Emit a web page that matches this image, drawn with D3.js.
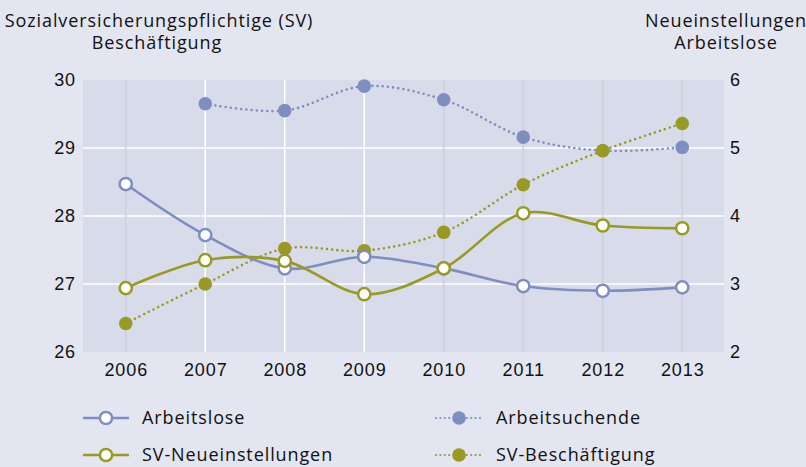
<!DOCTYPE html>
<html>
<head>
<meta charset="utf-8">
<script src="https://cdn.jsdelivr.net/npm/d3@7"></script>
<style>
  body { margin: 0; background: #e3e5f0; }
  svg { display: block; font-family: "Open Sans", "Noto Sans", sans-serif; }
  text { letter-spacing: 0.9px; }
</style>
</head>
<body>
<svg id="chart" width="806" height="467"></svg>
<script>
const years = [2006, 2007, 2008, 2009, 2010, 2011, 2012, 2013]
const leftTicks = [26, 27, 28, 29, 30]
const rightTicks = [2, 3, 4, 5, 6]

// left axis (Mio.)
const svBeschaeftigung = [26.42, 27.0, 27.52, 27.49, 27.76, 28.46, 28.96, 29.36]
// right axis (Mio.)
const arbeitsuchende = [null, 5.65, 5.55, 5.91, 5.71, 5.16, 4.96, 5.01]
const arbeitslose = [4.47, 3.72, 3.23, 3.40, 3.23, 2.97, 2.90, 2.95]
const svNeueinstellungen = [2.94, 3.35, 3.34, 2.85, 3.23, 4.04, 3.86, 3.82]

const grayYears = [2006, 2010, 2011, 2012, 2013]

const blue = '#7e8ec1'
const olive = '#999a22'
const ink = '#111'

const svg = d3.select('#chart')
const plot = { left: 83, right: 724, top: 80, bottom: 352 }

const x = d3.scalePoint().domain(years).range([86, 722]).padding(0.5)
const yL = d3.scaleLinear().domain([26, 30]).range([plot.bottom, plot.top])
const yR = d3.scaleLinear().domain([2, 6]).range([plot.bottom, plot.top])

svg.append('rect')
    .attr('x', plot.left).attr('y', plot.top)
    .attr('width', plot.right - plot.left).attr('height', plot.bottom - plot.top)
    .attr('fill', '#d8dbea')

// grid
svg.selectAll('line.hgrid').data(leftTicks.slice(1, -1)).enter()
    .append('line')
    .attr('x1', plot.left).attr('x2', plot.right)
    .attr('y1', d => yL(d)).attr('y2', d => yL(d))
    .attr('stroke', '#fff').attr('stroke-width', 1.5)

svg.selectAll('line.vgrid').data(years).enter()
    .append('line')
    .attr('x1', d => x(d)).attr('x2', d => x(d))
    .attr('y1', plot.top).attr('y2', plot.bottom)
    .attr('stroke', d => grayYears.includes(d) ? '#cdcfd9' : '#fff')
    .attr('stroke-width', 1.5)

// axes
const axL = svg.append('g').attr('transform', `translate(${plot.left},0)`)
    .call(d3.axisLeft(yL).tickValues(leftTicks).tickFormat(d3.format('d')).tickSize(0).tickPadding(7))
const axR = svg.append('g').attr('transform', `translate(${plot.right},0)`)
    .call(d3.axisRight(yR).tickValues(rightTicks).tickFormat(d3.format('d')).tickSize(0).tickPadding(6))
const axB = svg.append('g').attr('transform', `translate(0,${plot.bottom})`)
    .call(d3.axisBottom(x).tickSize(0).tickPadding(11))
for (let ax of [axL, axR, axB]) {
    ax.select('.domain').remove()
    ax.selectAll('text').attr('font-size', '18px').attr('font-family', null).attr('fill', ink)
}

// titles
const titles = [
    { x: 159, y: 27, t: 'Sozialversicherungspflichtige (SV)' },
    { x: 157, y: 49, t: 'Beschäftigung' },
    { x: 726, y: 27, t: 'Neueinstellungen' },
    { x: 726, y: 49, t: 'Arbeitslose' }
]
svg.selectAll('text.title').data(titles).enter()
    .append('text')
    .attr('class', 'title')
    .attr('x', d => d.x).attr('y', d => d.y)
    .attr('text-anchor', 'middle')
    .attr('font-size', '18px').attr('fill', ink)
    .text(d => d.t)

const series = [
    { name: 'Arbeitslose', values: arbeitslose, y: yR, color: blue, dotted: false },
    { name: 'SV-Neueinstellungen', values: svNeueinstellungen, y: yR, color: olive, dotted: false },
    { name: 'Arbeitsuchende', values: arbeitsuchende, y: yR, color: blue, dotted: true },
    { name: 'SV-Beschäftigung', values: svBeschaeftigung, y: yL, color: olive, dotted: true }
]

const drawOrder = [2, 3, 0, 1]
for (let i of drawOrder) {
    let s = series[i]
    let pts = years.map((yr, k) => [yr, s.values[k]]).filter(p => p[1] != null)
    let line = d3.line()
        .x(d => x(d[0]))
        .y(d => s.y(d[1]))
        .curve(d3.curveCatmullRom.alpha(0.5))
    svg.append('path')
        .datum(pts)
        .attr('d', line)
        .attr('fill', 'none')
        .attr('stroke', s.color)
        .attr('stroke-width', 2.6)
        .attr('stroke-dasharray', s.dotted ? '0 5.2' : null)
        .attr('stroke-linecap', s.dotted ? 'round' : 'butt')
    svg.selectAll(null).data(pts).enter()
        .append('circle')
        .attr('cx', d => x(d[0]))
        .attr('cy', d => s.y(d[1]))
        .attr('r', s.dotted ? 6.8 : 6.1)
        .attr('fill', s.dotted ? s.color : '#fff')
        .attr('stroke', s.dotted ? 'none' : s.color)
        .attr('stroke-width', 2.5)
}

// legend
const legendPos = [
    { sx: 83, tx: 142, y: 418 },
    { sx: 83, tx: 142, y: 455 },
    { sx: 436, tx: 496, y: 418 },
    { sx: 436, tx: 496, y: 455 }
]
series.forEach((s, i) => {
    let p = legendPos[i]
    let g = svg.append('g')
    g.append('line')
        .attr('x1', p.sx).attr('x2', p.sx + 46)
        .attr('y1', p.y).attr('y2', p.y)
        .attr('stroke', s.color).attr('stroke-width', s.dotted ? 2.2 : 2.6)
        .attr('stroke-dasharray', s.dotted ? '0 4.4' : null)
        .attr('stroke-linecap', s.dotted ? 'round' : 'butt')
    g.append('circle')
        .attr('cx', p.sx + 23).attr('cy', p.y)
        .attr('r', s.dotted ? 6.8 : 6.1)
        .attr('fill', s.dotted ? s.color : '#fff')
        .attr('stroke', s.dotted ? 'none' : s.color)
        .attr('stroke-width', 2.5)
    g.append('text')
        .attr('x', p.tx).attr('y', p.y).attr('dy', '0.35em')
        .attr('font-size', '18px').attr('fill', ink)
        .text(s.name)
})
</script>
</body>
</html>
